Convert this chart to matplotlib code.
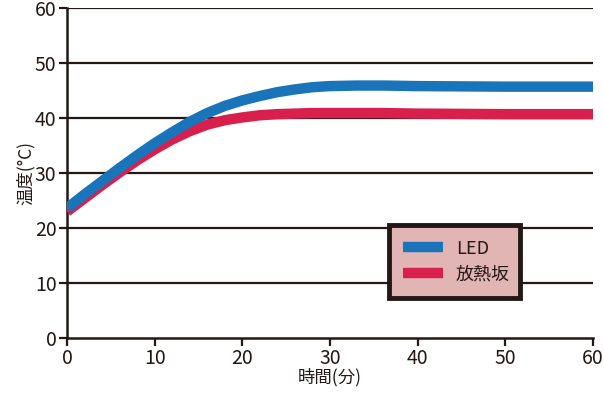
import matplotlib
matplotlib.use("Agg")
import matplotlib.pyplot as plt

plt.rcParams['font.family'] = ['Noto Sans CJK JP', 'DejaVu Sans']

time = [0, 2, 4, 6, 8, 10, 12, 14, 16, 18, 20, 22, 24, 26, 28, 30, 33, 36, 40, 50, 60]
led = [23.6, 26.1, 28.5, 30.9, 33.2, 35.4, 37.4, 39.3, 40.9, 42.2, 43.2, 44.0, 44.7, 45.2, 45.6, 45.8, 45.9, 45.9, 45.8, 45.7, 45.7]
heatsink = [23.0, 25.4, 27.8, 30.1, 32.3, 34.3, 36.1, 37.6, 38.8, 39.6, 40.1, 40.5, 40.7, 40.8, 40.9, 40.9, 40.9, 40.9, 40.8, 40.7, 40.7]
xticks = [0, 10, 20, 30, 40, 50, 60]
yticks = [0, 10, 20, 30, 40, 50, 60]

blue = '#1a74b9'
red = '#d91f4c'
ink = '#231815'

fig = plt.figure(figsize=(6.04, 3.94), dpi=100)
ax = fig.add_axes([0.1109, 0.1421, 0.8709, 0.8376])

for y in yticks[1:]:
    ax.axhline(y, color=ink, lw=1.6, zorder=1)

l2, = ax.plot(time, heatsink, color=red, lw=7.5, solid_capstyle='butt',
              solid_joinstyle='round', zorder=3, label='放熱坂')
l1, = ax.plot(time, led, color=blue, lw=7.5, solid_capstyle='butt',
              solid_joinstyle='round', zorder=4, label='LED')

ax.set_xlim(0, 60)
ax.set_ylim(0, 60)
ax.set_xticks(xticks)
ax.set_yticks(yticks)
ax.tick_params(axis='both', colors=ink, labelcolor=ink, labelsize=14,
               width=1.6, length=6, direction='out', pad=1.5)
for s in ['top', 'right']:
    ax.spines[s].set_visible(False)
for s in ['left', 'bottom']:
    ax.spines[s].set_color(ink)
    ax.spines[s].set_linewidth(1.8)

ax.set_xlabel('時間(分)', fontsize=12.5, color=ink, labelpad=-1)
ax.set_ylabel('温度(°C)', fontsize=12.5, color=ink, labelpad=0)

leg = ax.legend(handles=[l1, l2], loc='lower left',
                bbox_to_anchor=(0.612, 0.121, 0.249, 0.243), mode='expand',
                fontsize=13, frameon=True, fancybox=False, handlelength=2.2,
                handletextpad=0.7, labelspacing=0.45, borderpad=0.8,
                borderaxespad=0)
frame = leg.get_frame()
frame.set_facecolor('#e2b5b5')
frame.set_edgecolor(ink)
frame.set_linewidth(3.5)
frame.set_alpha(1)
leg.set_zorder(6)
for t in leg.get_texts():
    t.set_color(ink)

fig.savefig('out.png', dpi=100)
